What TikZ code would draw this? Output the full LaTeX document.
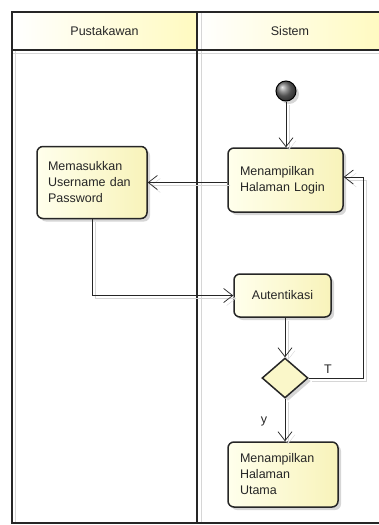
\documentclass[tikz,border=0pt]{standalone}
\usepackage{fontspec}
\setmainfont{Liberation Sans}
\usetikzlibrary{arrows.meta,shapes.geometric,shadows,calc}

\definecolor{hdrY}{RGB}{255,250,192}
\definecolor{boxA}{RGB}{255,255,236}
\definecolor{boxB}{RGB}{248,243,186}
\definecolor{ink}{RGB}{38,38,38}
\definecolor{shadegray}{RGB}{214,214,214}

\begin{document}
\begin{tikzpicture}[x=1pt,y=-1pt,
  font=\fontsize{12.5}{16}\selectfont, text=ink,
  frame/.style={draw=ink, line width=1.6pt},
  action/.style={draw=ink, line width=1.5pt, rounded corners=6pt,
    left color=boxA, right color=boxB,
    drop shadow={shadow xshift=3pt, shadow yshift=-3pt, fill=shadegray, opacity=1},
    align=left, inner ysep=4pt},
  decision/.style={diamond, draw=ink, line width=1.5pt, fill=boxB!70!boxA,
    minimum width=46pt, minimum height=40pt, inner sep=0pt,
    drop shadow={shadow xshift=3pt, shadow yshift=-3pt, fill=shadegray, opacity=1}},
  startdot/.style={circle, draw=black, line width=1pt, minimum size=20pt, inner sep=0pt,
    shading=ball, ball color=black!55,
    drop shadow={shadow xshift=3pt, shadow yshift=-3pt, fill=shadegray, opacity=1}},
  flow/.style={draw=ink, line width=0.7pt,
    -{Straight Barb[length=9pt,width=14pt,line width=0.7pt]},
    preaction={draw=shadegray, transform canvas={shift={(3pt,-3pt)}}}},
  lbl/.style={font=\fontsize{12.5}{14}\selectfont, inner sep=0pt}
]
\useasboundingbox (0,0) rectangle (379,525);
\clip (0,0) rectangle (379,525);

% swimlane headers
\shade[left color=white, right color=hdrY] (12,12) rectangle (197,50);
\shade[left color=white, right color=hdrY] (197,12) rectangle (383,50);

% soft lane shadows
\draw[shadegray, line width=1.5pt] (15.5,51) -- (15.5,523);
\draw[shadegray, line width=1.5pt] (201.5,51) -- (201.5,523);
\draw[shadegray, line width=1.5pt] (12,53.5) -- (383,53.5);
\draw[shadegray, line width=1.5pt] (201.5,13) -- (201.5,49);

% swimlane frame
\draw[frame] (12,12) rectangle (383,523);
\draw[frame] (12,50) -- (383,50);
\draw[frame] (197,12) -- (197,523);

\node (hp) at (104.5,31) {Pustakawan};
\node (hs) at (290,31) {Sistem};

% activities
\node[startdot] (init) at (286,91) {};
\node[action, minimum width=115pt, minimum height=64pt, text width=91pt, inner xsep=12pt]
  (login) at (285.5,180) {Menampilkan\\Halaman Login};
\node[action, minimum width=110pt, minimum height=72pt, text width=88pt, inner xsep=11pt]
  (mem) at (92,182.5) {Memasukkan\\Username dan\\Password};
\node[action, minimum width=97pt, minimum height=43pt, align=center]
  (auth) at (282.5,295.5) {Autentikasi};
\node[decision] (dia) at (285,378) {};
\node[action, minimum width=110pt, minimum height=65pt, text width=86pt, inner xsep=12pt]
  (utama) at (283,474.5) {Menampilkan\\Halaman\\Utama};

\coordinate (loopR) at (363,177);

% transitions
\draw[flow] (init.south) -- (init.south |- login.north);
\draw[flow] (login.west |- mem.east) -- (mem.east);
\draw[flow] (mem.south) |- (auth.west);
\draw[flow] (auth.south -| dia.north) -- (dia.north);
\draw[flow] (dia.east) -| (loopR) -- (loopR -| login.east);
\draw[flow] (dia.south) -- (dia.south |- utama.north);

\node[lbl] (tT) at (328,369) {T};
\node[lbl] (ty) at (264,421) {y};
\end{tikzpicture}
\end{document}
